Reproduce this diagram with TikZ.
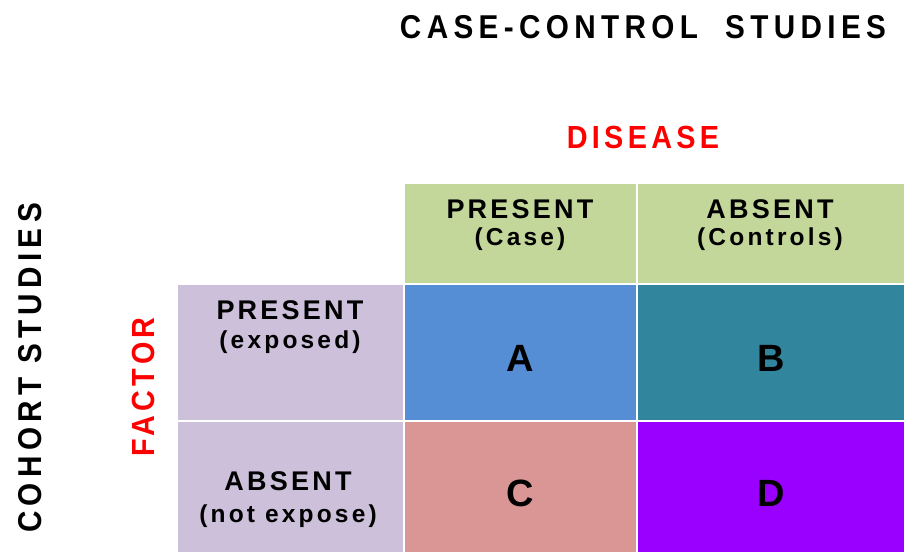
\documentclass[tikz,border=0pt]{standalone}
\usepackage{fontspec}
\setmainfont{Liberation Sans}
\newfontfamily\spaced[LetterSpace=12]{Liberation Sans}
\newfontfamily\wide[LetterSpace=18]{Liberation Sans}
\newfontfamily\redwide[LetterSpace=15]{Liberation Sans}
\newfontfamily\sub[LetterSpace=13]{Liberation Sans}
\definecolor{hgreen}{HTML}{C4D79B}
\definecolor{hlilac}{HTML}{CCC0DA}
\definecolor{cellA}{HTML}{558ED5}
\definecolor{cellB}{HTML}{31859C}
\definecolor{cellC}{HTML}{D99694}
\definecolor{cellD}{HTML}{9900FF}
\definecolor{tred}{HTML}{FF0000}
\tikzset{
  lbl/.style={inner sep=0pt, font=\spaced\bfseries},
  squeeze/.style={xscale=0.9, transform shape},
}
\begin{document}
\begin{tikzpicture}[x=1pt, y=-1pt]

	\useasboundingbox (0,0) rectangle (904,552);

	%titles
 \node[lbl, squeeze, font=\wide\bfseries\fontsize{33}{33}\selectfont] (title) at (643, 27) {CASE-CONTROL\ \ STUDIES};
 \node[lbl, squeeze, text=tred, font=\redwide\bfseries\fontsize{32}{32}\selectfont] (disease) at (643, 137) {DISEASE};
 \node[lbl, rotate=90, squeeze, font=\wide\bfseries\fontsize{33}{33}\selectfont] (cohort) at (30, 368) {COHORT STUDIES};
 \node[lbl, rotate=90, squeeze, text=tred, font=\redwide\bfseries\fontsize{32}{32}\selectfont] (factor) at (143, 387) {FACTOR};

	%header cells
    \foreach \xa/\xb/\yb/\ya/\col in {405/636/184/283/hgreen,638/904/184/283/hgreen,178/403/285/420/hlilac,178/403/422/552/hlilac}{
         \fill[\col] (\xa, \yb) rectangle (\xb, \ya);
    }
    \foreach \x/\y/\txt/\name in {520/209/PRESENT/dp,770/209/ABSENT/da,290/310/PRESENT/fp,288/481/ABSENT/fa}{
         \node[lbl, font=\spaced\bfseries\fontsize{27}{27}\selectfont] (\name) at (\x, \y) {\txt};
    }
    \foreach \x/\y/\txt/\name in {520/239/(Case)/dps,770/239/(Controls)/das,290/342/(exposed)/fps,288/516/(not expose)/fas}{
         \node[lbl, font=\sub\bfseries\fontsize{24.5}{24.5}\selectfont] (\name) at (\x, \y) {\txt};
    }

	%inner cells
    \foreach \xa/\xb/\yb/\ya/\col/\num in {405/636/285/420/cellA/A,638/904/285/420/cellB/B,405/636/422/552/cellC/C,638/904/422/552/cellD/D}{
         \fill[\col] (\xa, \yb) rectangle (\xb, \ya);
         \node[lbl, font=\bfseries\fontsize{38}{38}\selectfont] (cell\num) at ({(\xa+\xb)/2}, {(\ya+\yb)/2+6}) {\num};
    }

\end{tikzpicture}
\end{document}
